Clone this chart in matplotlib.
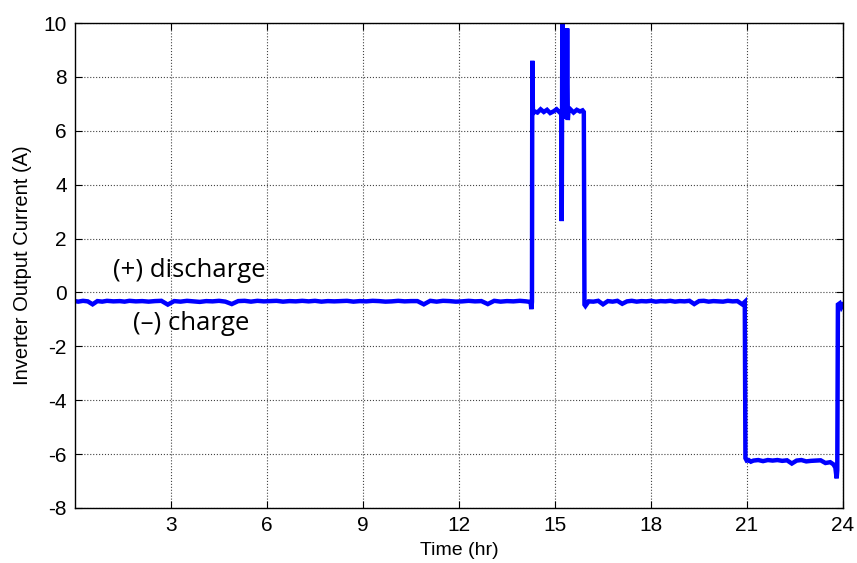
import matplotlib
matplotlib.use('Agg')
import matplotlib.pyplot as plt

# Segmento 1: linha de base antes da descarga
t_base1 = [0.00, 0.10, 0.25, 0.40, 0.55, 0.70, 0.85, 1.00, 1.20, 1.40, 1.55, 1.70,
           1.90, 2.10, 2.30, 2.50, 2.70, 2.90, 3.10, 3.30, 3.50, 3.70, 3.90, 4.10,
           4.30, 4.50, 4.70, 4.90, 5.10, 5.30, 5.50, 5.70, 5.90, 6.10, 6.30, 6.50,
           6.70, 6.90, 7.10, 7.30, 7.50, 7.70, 7.90, 8.10, 8.30, 8.50, 8.70, 8.90,
           9.10, 9.30, 9.50, 9.70, 9.90, 10.10, 10.30, 10.50, 10.70, 10.90, 11.10,
           11.30, 11.50, 11.70, 11.90, 12.10, 12.30, 12.50, 12.70, 12.90, 13.10,
           13.30, 13.50, 13.70, 13.90, 14.10, 14.22]
i_base1 = [-0.32, -0.34, -0.31, -0.33, -0.44, -0.32, -0.34, -0.31, -0.33, -0.32,
           -0.34, -0.31, -0.33, -0.32, -0.34, -0.32, -0.31, -0.45, -0.32, -0.34,
           -0.31, -0.33, -0.35, -0.32, -0.33, -0.31, -0.34, -0.43, -0.32, -0.31,
           -0.34, -0.31, -0.33, -0.32, -0.31, -0.34, -0.32, -0.33, -0.31, -0.33,
           -0.31, -0.34, -0.32, -0.33, -0.32, -0.31, -0.34, -0.32, -0.33, -0.31,
           -0.32, -0.34, -0.33, -0.31, -0.33, -0.32, -0.32, -0.44, -0.31, -0.34,
           -0.31, -0.32, -0.34, -0.33, -0.31, -0.33, -0.32, -0.43, -0.31, -0.34,
           -0.32, -0.33, -0.31, -0.33, -0.35]

# Segmento 2: descarga (+)
t_dis = [14.24, 14.26, 14.28, 14.29, 14.31, 14.36, 14.45, 14.55, 14.65, 14.75,
         14.85, 14.95, 15.05, 15.15, 15.20, 15.21, 15.22, 15.23, 15.25, 15.26,
         15.28, 15.32, 15.36, 15.38, 15.40, 15.42, 15.48, 15.58, 15.68, 15.78,
         15.86, 15.90, 15.92]
i_dis = [-0.40, -0.62, -0.35, 8.60, 6.65, 6.72, 6.68, 6.80, 6.70, 6.78,
         6.66, 6.72, 6.80, 6.68, 6.74, 2.65, 6.70, 10.30, 6.60, 6.45,
         6.75, 6.70, 6.50, 9.80, 6.40, 6.72, 6.80, 6.68, 6.78, 6.72,
         6.76, 6.70, -0.45]

# Segmento 3: linha de base entre descarga e carga
t_base2 = [15.95, 16.05, 16.20, 16.35, 16.50, 16.65, 16.80, 16.95, 17.10, 17.25,
           17.40, 17.55, 17.70, 17.85, 18.00, 18.15, 18.30, 18.45, 18.60, 18.75,
           18.90, 19.05, 19.20, 19.35, 19.50, 19.65, 19.80, 19.95, 20.10, 20.25,
           20.40, 20.55, 20.70, 20.85, 20.93]
i_base2 = [-0.50, -0.33, -0.34, -0.31, -0.44, -0.32, -0.34, -0.31, -0.42, -0.33,
           -0.31, -0.34, -0.32, -0.33, -0.31, -0.34, -0.32, -0.33, -0.31, -0.34,
           -0.32, -0.33, -0.31, -0.43, -0.32, -0.31, -0.34, -0.32, -0.33, -0.34,
           -0.31, -0.33, -0.32, -0.44, -0.35]

# Segmento 4: carga (-)
t_chg = [20.95, 20.99, 21.05, 21.12, 21.20, 21.35, 21.50, 21.65, 21.80, 21.95,
         22.10, 22.25, 22.40, 22.55, 22.70, 22.85, 23.00, 23.15, 23.30, 23.45,
         23.60, 23.70, 23.76, 23.80, 23.82, 23.84, 23.90, 23.95, 24.00]
i_chg = [-6.15, -6.24, -6.22, -6.28, -6.24, -6.22, -6.26, -6.22, -6.24, -6.22,
         -6.25, -6.23, -6.35, -6.24, -6.22, -6.27, -6.25, -6.24, -6.23, -6.33,
         -6.30, -6.38, -6.50, -6.90, -6.60, -0.45, -0.40, -0.55, -0.45]

x_ticks = [3, 6, 9, 12, 15, 18, 21, 24]
y_ticks = [-8, -6, -4, -2, 0, 2, 4, 6, 8, 10]

time_hr = t_base1 + t_dis + t_base2 + t_chg
current_a = i_base1 + i_dis + i_base2 + i_chg

tick_font = 'Liberation Sans'

fig = plt.figure(figsize=(8.57, 5.63), dpi=100)
ax = fig.add_axes([0.0875, 0.0977, 0.8962, 0.8613])

ax.plot(time_hr, current_a, color='#0000ff', linewidth=3.2, solid_joinstyle='miter')

ax.set_xlim(0, 24)
ax.set_ylim(-8, 10)
ax.set_xticks(x_ticks)
ax.set_yticks(y_ticks)
ax.set_xticklabels([str(v) for v in x_ticks], fontsize=15, family=tick_font)
ax.set_yticklabels([str(v) for v in y_ticks], fontsize=15, family=tick_font)
ax.tick_params(direction='in', length=5, width=0.8, top=True, right=True, pad=6)

ax.grid(True, linestyle=':', color='#444444', linewidth=0.8)
for s in ax.spines.values():
    s.set_linewidth(1.0)

ax.set_xlabel('Time (hr)', fontsize=14, family=tick_font, labelpad=5)
ax.set_ylabel('Inverter Output Current (A)', fontsize=14.5, family=tick_font, labelpad=8)

ax.text(1.19, 0.82, '(+) discharge', fontsize=18.5, family='Open Sans', ha='left', va='center')
ax.text(1.81, -1.15, '(\u2013) charge', fontsize=18.5, family='Open Sans', ha='left', va='center')

fig.savefig('out.png', dpi=100)
